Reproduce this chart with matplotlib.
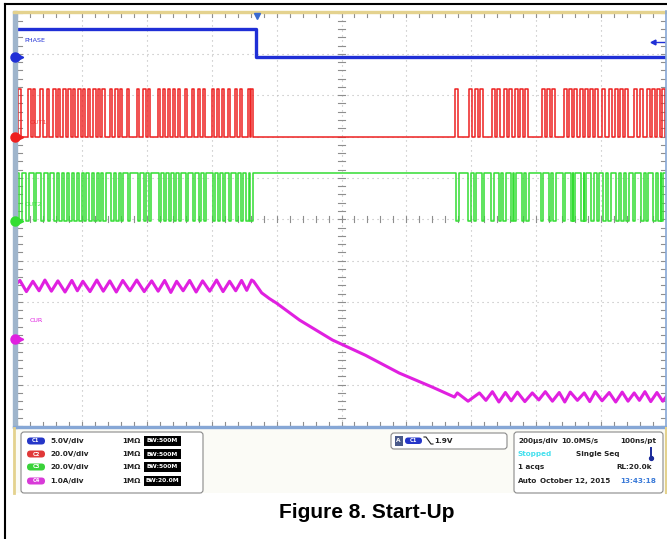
import numpy as np
import matplotlib.pyplot as plt
from matplotlib.patches import FancyBboxPatch, Rectangle

W, H = 667, 539

# time base: 200 us/div, 10 div on screen, times in us from left edge
us_per_div = 200.0
t_end = 2000
trig_t = 738

# channel setup: units per div, ground marker position (div from bottom)
c1_scale, c1_pos = 5.0, 8.92    # PHASE
c2_scale, c2_pos = 20.0, 6.99   # OUT1
c3_scale, c3_pos = 20.0, 4.96   # OUT2
c4_scale, c4_pos = 1.0, 2.10    # CUR

# PHASE signal
phase_t = [0, 738, 738, 2000]
phase_v = [3.4, 3.4, 0.0, 0.0]

# OUT1 / OUT2 switching, pulse start times (us)
out_hi = 23.0
pulse_w = 8
out1_starts = [3, 34, 49, 71, 92, 111, 126, 142, 157, 172, 188, 203, 218, 234, 249,
               262, 286, 302, 317, 338, 369, 388, 403, 434, 449, 465, 480, 495, 517,
               538, 557, 572, 600, 615, 631, 649, 671, 686, 711, 720,
               1351, 1394, 1412, 1428, 1465, 1480, 1502, 1517, 1535, 1551, 1566, 1618,
               1634, 1649, 1686, 1702, 1717, 1735, 1751, 1766, 1782, 1803, 1825, 1843,
               1858, 1874, 1902, 1920, 1942, 1957, 1972, 1988]
out2_starts = [6, 28, 52, 75, 95, 114, 130, 145, 160, 176, 191, 206, 222, 237, 252,
               266, 290, 305, 320, 341, 372, 391, 406, 437, 452, 468, 483, 498, 520,
               541, 560, 575, 603, 618, 634, 652, 674, 689, 706, 718,
               1353, 1390, 1408, 1432, 1461, 1484, 1498, 1521, 1531, 1555, 1570, 1614,
               1638, 1653, 1682, 1706, 1713, 1739, 1747, 1770, 1786, 1807, 1821, 1847,
               1862, 1878, 1898, 1924, 1938, 1961, 1976, 1984]

# inductor current (A)
cur_t = [0, 9, 29, 49, 68, 86, 106, 126, 148, 169, 186, 203, 225, 246, 266, 286, 306,
         326, 348, 369, 392, 415, 435, 455, 474, 492, 512, 532, 552, 572, 594, 615, 635,
         655, 674, 692, 708, 723, 729,
         754, 778, 800, 871, 932, 972, 1074, 1178, 1280, 1348,
         1357, 1390, 1425, 1445, 1465, 1485, 1505, 1523, 1542, 1565, 1588, 1608, 1628,
         1650, 1671, 1688, 1705, 1727, 1748, 1765, 1782, 1803, 1825, 1845, 1865, 1883,
         1902, 1918, 1935, 1953, 1972, 1990, 2000]
cur_a = [1.35, 1.42, 1.15, 1.40, 1.17, 1.43, 1.16, 1.41, 1.14, 1.42, 1.17, 1.40, 1.15,
         1.43, 1.16, 1.41, 1.14, 1.42, 1.17, 1.43, 1.15, 1.41, 1.16, 1.42, 1.13, 1.40,
         1.17, 1.42, 1.14, 1.41, 1.16, 1.43, 1.15, 1.40, 1.17, 1.42, 1.18, 1.43, 1.40,
         1.12, 0.98, 0.87, 0.46, 0.17, -0.02, -0.39, -0.82, -1.16, -1.40,
         -1.30, -1.50, -1.30, -1.48, -1.27, -1.52, -1.29, -1.49, -1.28, -1.51, -1.30,
         -1.47, -1.27, -1.50, -1.29, -1.52, -1.28, -1.48, -1.30, -1.51, -1.27, -1.49,
         -1.29, -1.52, -1.28, -1.50, -1.30, -1.48, -1.27, -1.51, -1.29, -1.50, -1.40]

col_c1 = "#1f2fd6"
col_c2 = "#ee2020"
col_c3 = "#33dd33"
col_c4 = "#e020e0"


def square(starts, width, base, level):
    t = [0]
    v = [base]
    for s in starts:
        t += [s, s, s + width, s + width]
        v += [base, level, level, base]
    t.append(t_end)
    v.append(base)
    return np.array(t, float), np.array(v, float)


fig = plt.figure(figsize=(W / 100, H / 100), dpi=100)
fig.patch.set_facecolor("white")

# ---- scope screen
ax = fig.add_axes([17 / W, (H - 426) / H, 649 / W, 413.5 / H])
ax.set_xlim(0, 10)
ax.set_ylim(0, 10)
ax.set_facecolor("white")
for s in ax.spines.values():
    s.set_visible(False)
ax.set_xticks([])
ax.set_yticks([])

gcol = "#b9b9b9"
for k in range(1, 10):
    ax.axvline(k, color=gcol, lw=0.8, ls=(0, (1, 3.5)), zorder=1)
    ax.axhline(k, color=gcol, lw=0.8, ls=(0, (1, 3.5)), zorder=1)
tk = np.arange(0, 10.01, 0.2)
tcol = "#8e8e8e"
for v in tk:
    ax.plot([0, 0.07], [v, v], color=tcol, lw=0.8, zorder=1)
    ax.plot([9.93, 10], [v, v], color=tcol, lw=0.8, zorder=1)
    ax.plot([4.95, 5.05], [v, v], color=tcol, lw=0.8, zorder=1)
    ax.plot([v, v], [9.9, 10], color=tcol, lw=0.8, zorder=1)
    ax.plot([v, v], [0, 0.1], color=tcol, lw=0.8, zorder=1)
    ax.plot([v, v], [4.93, 5.07], color=tcol, lw=0.8, zorder=1)

# traces
x = np.array(phase_t) / us_per_div
ax.plot(x, c1_pos + np.array(phase_v) / c1_scale, color=col_c1, lw=2.4, zorder=3)

t2, v2 = square(out1_starts, pulse_w, 0.0, out_hi)
ax.plot(t2 / us_per_div, c2_pos + v2 / c2_scale, color=col_c2, lw=1.1, zorder=3)

t3, v3 = square(out2_starts, pulse_w, out_hi, 0.0)
ax.plot(t3 / us_per_div, c3_pos + v3 / c3_scale, color=col_c3, lw=1.1, zorder=3)

ax.plot(np.array(cur_t) / us_per_div, c4_pos + np.array(cur_a) / c4_scale,
        color=col_c4, lw=2.2, zorder=3)

# ---- overlay in pixel coordinates
ov = fig.add_axes([0, 0, 1, 1])
ov.set_xlim(0, W)
ov.set_ylim(H, 0)
ov.axis("off")

ov.plot([5, 5], [4, H], color="black", lw=1.5)
ov.plot([5, W], [4, 4], color="black", lw=1.5)

ov.add_patch(Rectangle((12.5, 11), 4.5, 417, color="#9fb5cc", zorder=2))
ov.add_patch(Rectangle((12.5, 10.5), 655, 2, color="#e4d28e", zorder=2))
ov.add_patch(Rectangle((12.5, 426), 655, 2.2, color="#86a7d6", zorder=2))
ov.plot([666, 666], [11, 428], color="#86a7d6", lw=1.2, zorder=2)
ov.add_patch(Rectangle((12.5, 428), 655, 65, fc="#fbfbf6", ec="none", zorder=1))
ov.plot([13.5, 13.5], [428, 493], color="#e4d28e", lw=2, zorder=2)
ov.plot([666, 666], [428, 493], color="#e4d28e", lw=1.5, zorder=2)

# trigger marker and right arrow
ov.plot(257, 16, marker="v", ms=4.5, color="#3a6ad0", zorder=5)
ov.plot([653, 664], [42, 42], color=col_c1, lw=1, zorder=5)
ov.plot(653, 42, marker="<", ms=3.5, color=col_c1, zorder=5)

# channel ground markers
for y, c in [(57, col_c1), (137, col_c2), (221, col_c3), (339, col_c4)]:
    ov.plot(15, y, marker="o", ms=6.5, color=c, zorder=5)
    ov.plot(20.5, y, marker=">", ms=3.2, color=c, zorder=5)

lab = dict(fontsize=4.6, fontfamily="DejaVu Sans", va="center", zorder=5)
ov.text(24, 40, "PHASE", color=col_c1, **lab)
ov.text(30, 123, "OUT1", color=col_c2, alpha=0.8, **lab)
ov.text(25, 204, "OUT2", color=col_c3, alpha=0.8, **lab)
ov.text(30, 321, "CUR", color=col_c4, **lab)

# ---- bottom info panel
ov.add_patch(FancyBboxPatch((21, 432), 182, 61, boxstyle="round,pad=0,rounding_size=3",
                            fc="white", ec="#8a8a8a", lw=0.8, zorder=3))
ch_names = ["C1", "C2", "C3", "C4"]
ch_div = ["5.0V/div", "20.0V/div", "20.0V/div", "1.0A/div"]
ch_bw = ["BW:500M", "BW:500M", "BW:500M", "BW:20.0M"]
ch_cols = ["#2536c8", "#e03838", "#3ad23a", "#d83ad8"]
rows = [441, 454, 467, 481]
txt = dict(fontsize=5.2, fontweight="bold", va="center", color="#222222", zorder=5)
for y, n, d, b, c in zip(rows, ch_names, ch_div, ch_bw, ch_cols):
    ov.add_patch(FancyBboxPatch((27, y - 3.5), 18, 7, boxstyle="round,pad=0,rounding_size=3.5",
                                fc=c, ec="none", zorder=4))
    ov.text(36, y, n, color="white", fontsize=3.8, fontweight="bold", ha="center",
            va="center", zorder=5)
    ov.text(50, y, d, **txt)
    ov.text(122, y, "1M\u03a9", **txt)
    ov.add_patch(Rectangle((144, y - 5), 37, 10, fc="black", zorder=4))
    ov.text(162.5, y, b, color="white", fontsize=4.3, fontweight="bold", ha="center",
            va="center", zorder=5)

# trigger box
ov.add_patch(FancyBboxPatch((391, 433), 116, 16, boxstyle="round,pad=0,rounding_size=3",
                            fc="white", ec="#8a8a8a", lw=0.8, zorder=3))
ov.add_patch(Rectangle((394.5, 436), 8, 9.5, fc="#4a5a8a", zorder=4))
ov.text(398.5, 440.8, "A", color="white", fontsize=4.2, fontweight="bold", ha="center",
        va="center", zorder=5)
ov.add_patch(FancyBboxPatch((405, 437.5), 17, 6.5, boxstyle="round,pad=0,rounding_size=3.2",
                            fc="#2536c8", ec="none", zorder=4))
ov.text(413.5, 440.8, "C1", color="white", fontsize=3.8, fontweight="bold", ha="center",
        va="center", zorder=5)
ov.plot([424, 426, 431, 433], [437, 437, 444, 444], color="#222222", lw=0.8, zorder=5)
ov.text(434, 440.8, "1.9V", **txt)

# acquisition box
ov.add_patch(FancyBboxPatch((514, 432), 149, 61, boxstyle="round,pad=0,rounding_size=3",
                            fc="white", ec="#8a8a8a", lw=0.8, zorder=3))
ov.text(518, 441, "200\u00b5s/div", **txt)
ov.text(561, 441, "10.0MS/s", **txt)
ov.text(656, 441, "100ns/pt", ha="right", **txt)
ov.text(518, 454, "Stopped", **{**txt, "color": "#44e0ee"})
ov.text(576, 454, "Single Seq", **txt)
ov.plot([651, 651], [448, 456], color="#1a2a9a", lw=1.4, zorder=5)
ov.plot(651, 457.5, marker="o", ms=2.8, color="#1a2a9a", zorder=5)
ov.text(518, 467, "1 acqs", **txt)
ov.text(652, 467, "RL:20.0k", ha="right", **txt)
ov.text(518, 481, "Auto", **txt)
ov.text(540, 481, "October 12, 2015", **txt)
ov.text(656, 481, "13:43:18", ha="right", **{**txt, "color": "#3a7ad8"})

# caption
ov.text(367, 513, "Figure 8. Start-Up", fontsize=15, fontweight="bold",
        fontfamily="Liberation Sans", ha="center", va="center", color="black")

fig.savefig("out.png", dpi=100)
